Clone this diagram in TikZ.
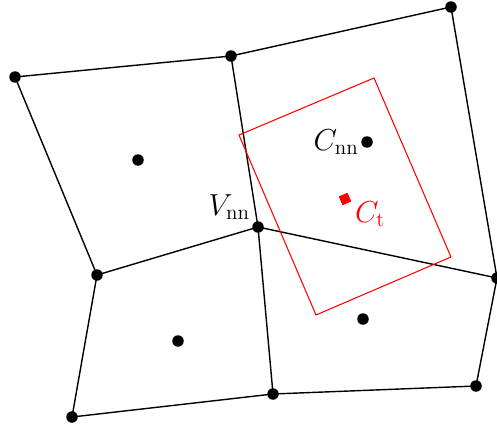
\documentclass[tikz,border=0pt]{standalone}
\usepackage{amsmath,amssymb}
\usepackage{tikz}
\usepackage{xcolor}
\definecolor{probe}{RGB}{255,0,0}

\begin{document}
\begin{tikzpicture}[x=0.02cm,y=-0.02cm,line cap=round,line join=round,
    edge/.style={black,line width=0.8pt},
    vert/.style={circle,fill=black,inner sep=0pt,minimum size=0.23cm},
    lab/.style={font=\fontsize{17}{19}\selectfont,inner sep=1pt}]
  % mesh cells around the query, the nearest vertex and centre, and the rotated target cell
  \useasboundingbox (0,0) rectangle (497,426);
  \coordinate (a) at (15,77);
  \coordinate (b) at (231,56);
  \coordinate (c) at (451,7);
  \coordinate (d) at (97,275);
  \coordinate (vnn) at (258,227);
  \coordinate (f) at (497,278);
  \coordinate (g) at (72,417);
  \coordinate (h) at (273,394);
  \coordinate (i) at (476,386);
  \draw[edge] (a) -- (b) -- (c) -- (f) -- (i) -- (h) -- (g) -- (d) -- cycle;
  \draw[edge] (b) -- (vnn) -- (h);
  \draw[edge] (d) -- (vnn) -- (f);
  \foreach \p in {a,b,c,d,vnn,f,g,h,i}
    \node[vert] at (\p) {};
  % cell centres
  \node[vert] (c1) at (138,160) {};
  \node[vert] (cnn) at (367,142) {};
  \node[vert] (c3) at (178,341) {};
  \node[vert] (c4) at (363,319) {};
  % target cell
  \draw[probe,line width=0.6pt] (239,135) -- (374,78) -- (451,257) -- (316,315) -- cycle;
  \node[fill=probe,inner sep=0pt,minimum size=0.19cm,rotate=23] (ct) at (345,199) {};
  \node[lab,anchor=east] at (cnn.west) {$C_{\mathrm{nn}}$};
  \node[lab,anchor=south east] at (252,222) {$V_{\mathrm{nn}}$};
  \node[lab,probe,anchor=west] at (353,214) {$C_{\mathrm{t}}$};
\end{tikzpicture}
\end{document}
